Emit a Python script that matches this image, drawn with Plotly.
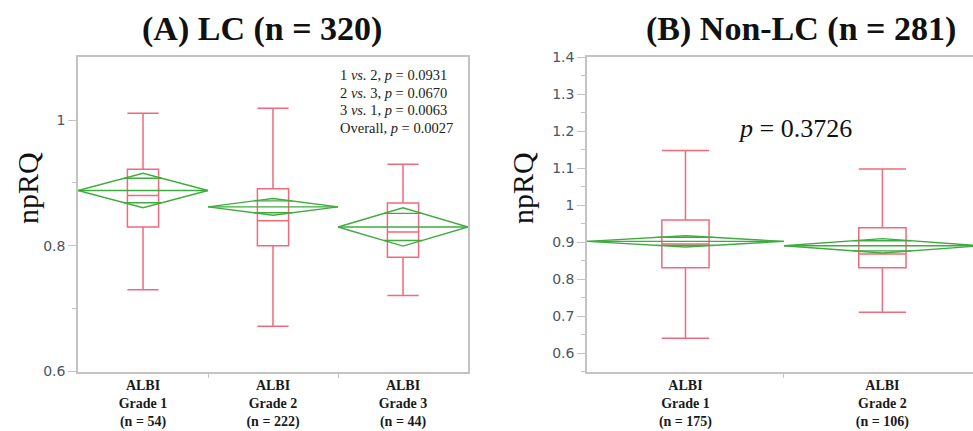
import numpy as np
import plotly.graph_objects as go

W, H = 973, 431

# ---- (A) LC cohort: npRQ by ALBI grade ----
lc_labels = ["<b>ALBI<br>Grade 1<br>(n = 54)</b>",
             "<b>ALBI<br>Grade 2<br>(n = 222)</b>",
             "<b>ALBI<br>Grade 3<br>(n = 44)</b>"]
lc_low = [0.730, 0.672, 0.721]
lc_q1 = [0.830, 0.800, 0.782]
lc_median = [0.880, 0.840, 0.822]
lc_q3 = [0.922, 0.891, 0.868]
lc_high = [1.011, 1.019, 0.930]
lc_mean = [0.888, 0.862, 0.830]
lc_ci_half = [0.0275, 0.0134, 0.0305]
lc_stats = ["1 <i>vs.</i> 2, <i>p</i> = 0.0931",
            "2 <i>vs.</i> 3, <i>p</i> = 0.0670",
            "3 <i>vs.</i> 1, <i>p</i> = 0.0063",
            "Overall, <i>p</i> = 0.0027"]

# ---- (B) Non-LC cohort ----
nlc_labels = ["<b>ALBI<br>Grade 1<br>(n = 175)</b>",
              "<b>ALBI<br>Grade 2<br>(n = 106)</b>"]
nlc_low = [0.640, 0.710]
nlc_q1 = [0.831, 0.831]
nlc_median = [0.895, 0.868]
nlc_q3 = [0.960, 0.939]
nlc_high = [1.148, 1.098]
nlc_mean = [0.902, 0.890]
nlc_ci_half = [0.0153, 0.0195]
nlc_stat = "<i>p</i> = 0.3726"

BOX_RED = "#ef6a7b"
DIAMOND_GREEN = "#3fac3f"
AXIS_GRAY = "#c3c3c3"
TICK_TEXT = "#4a5563"
SERIF = "Liberation Serif"


def px_x(x):
    return x / W


def px_y(y):
    return 1 - y / H


def means_diamonds(means, halves, xref, yref):
    """Means diamonds: mean line, CI diamond, and overlap marks per group."""
    k = 1 / np.sqrt(2)
    xs, ys = [], []
    for i, (m, h) in enumerate(zip(means, halves)):
        xs += [i - 0.5, i, i + 0.5, i, i - 0.5, None]
        ys += [m, m + h, m, m - h, m, None]
        xs += [i - 0.5, i + 0.5, None]
        ys += [m, m, None]
        d = 0.5 * (1 - k)
        for s in (1, -1):
            xs += [i - d, i + d, None]
            ys += [m + s * h * k, m + s * h * k, None]
    return go.Scatter(x=xs, y=ys, mode="lines", xaxis=xref, yaxis=yref,
                      line=dict(color=DIAMOND_GREEN, width=1.4),
                      hoverinfo="skip", showlegend=False)


def boxes(low, q1, med, q3, high, xref, yref):
    return go.Box(x=list(range(len(med))), lowerfence=low, q1=q1,
                  median=med, q3=q3, upperfence=high,
                  xaxis=xref, yaxis=yref, width=0.24, whiskerwidth=1,
                  line=dict(color=BOX_RED, width=1.5),
                  fillcolor="rgba(0,0,0,0)", showlegend=False)


fig = go.Figure()
fig.add_trace(boxes(lc_low, lc_q1, lc_median, lc_q3, lc_high, "x", "y"))
fig.add_trace(means_diamonds(lc_mean, lc_ci_half, "x", "y"))
fig.add_trace(boxes(nlc_low, nlc_q1, nlc_median, nlc_q3, nlc_high, "x2", "y2"))
fig.add_trace(means_diamonds(nlc_mean, nlc_ci_half, "x2", "y2"))

ydom = [px_y(371.5), px_y(57.3)]
xlabel_font = dict(family=SERIF, size=14, color="#1a1a1a")
ytick_font = dict(family="DejaVu Sans", size=14, color=TICK_TEXT)

common_x = dict(showgrid=False, zeroline=False, showline=True,
                linecolor=AXIS_GRAY, linewidth=1.5, ticks="",
                tickfont=xlabel_font, fixedrange=True, automargin=False)
common_y = dict(showgrid=False, zeroline=False, showline=True,
                linecolor=AXIS_GRAY, linewidth=1.5, ticks="outside",
                ticklen=8, tickwidth=1.2, tickcolor=AXIS_GRAY,
                tickfont=ytick_font, fixedrange=True, automargin=False)

fig.update_layout(
    width=W, height=H, autosize=False,
    margin=dict(l=0, r=0, t=0, b=0, pad=0, autoexpand=False),
    paper_bgcolor="white", plot_bgcolor="white",
    showlegend=False,
    xaxis=dict(common_x, domain=[px_x(78), px_x(468)], range=[-0.5, 2.5],
               tickmode="array", tickvals=[0, 1, 2], ticktext=lc_labels,
               mirror=True, anchor="y",
               minor=dict(tickmode="array", tickvals=[0.5, 1.5],
                          ticks="outside", ticklen=5, tickwidth=1.2,
                          tickcolor=AXIS_GRAY)),
    yaxis=dict(common_y, domain=ydom, range=[0.6, 1.1], tick0=0.6, dtick=0.2,
               mirror=True, anchor="x",
               minor=dict(tickmode="array", tickvals=[0.7, 0.9],
                          ticks="outside", ticklen=4, tickwidth=1.2,
                          tickcolor=AXIS_GRAY)),
    xaxis2=dict(common_x, domain=[px_x(587), 1.0], range=[-0.5, 1.46],
                tickmode="array", tickvals=[0, 1], ticktext=nlc_labels,
                mirror=True, anchor="y2",
                minor=dict(tickmode="array", tickvals=[0.5],
                           ticks="outside", ticklen=5, tickwidth=1.2,
                           tickcolor=AXIS_GRAY)),
    yaxis2=dict(common_y, domain=ydom, range=[0.55, 1.4], tick0=0, dtick=0.1,
                anchor="x2",
                minor=dict(tick0=0.05, dtick=0.1, ticks="outside", ticklen=4,
                           tickwidth=1.2, tickcolor=AXIS_GRAY)),
)

annotations = [
    dict(text="<b>(A) LC (n = 320)</b>", x=px_x(262), y=px_y(29),
         font=dict(family=SERIF, size=34, color="#111")),
    dict(text="<b>(B) Non-LC (n = 281)</b>", x=px_x(801), y=px_y(29),
         font=dict(family=SERIF, size=34, color="#111")),
    dict(text="npRQ", x=px_x(28), y=px_y(188), textangle=-90,
         font=dict(family=SERIF, size=30, color="#111")),
    dict(text="npRQ", x=px_x(523), y=px_y(188), textangle=-90,
         font=dict(family=SERIF, size=30, color="#111")),
    dict(text=nlc_stat, x=px_x(795), y=px_y(128),
         font=dict(family=SERIF, size=26, color="#111")),
]
for line, yy in zip(lc_stats, [75, 92.5, 110, 127.5]):
    annotations.append(dict(text=line, x=px_x(338), y=px_y(yy),
                            xanchor="left",
                            font=dict(family=SERIF, size=14.5, color="#222")))
for a in annotations:
    a.setdefault("xanchor", "center")
    a.update(xref="paper", yref="paper", yanchor="middle", showarrow=False)
fig.update_layout(annotations=annotations)

fig.write_html("out.html", config=dict(displayModeBar=False))
